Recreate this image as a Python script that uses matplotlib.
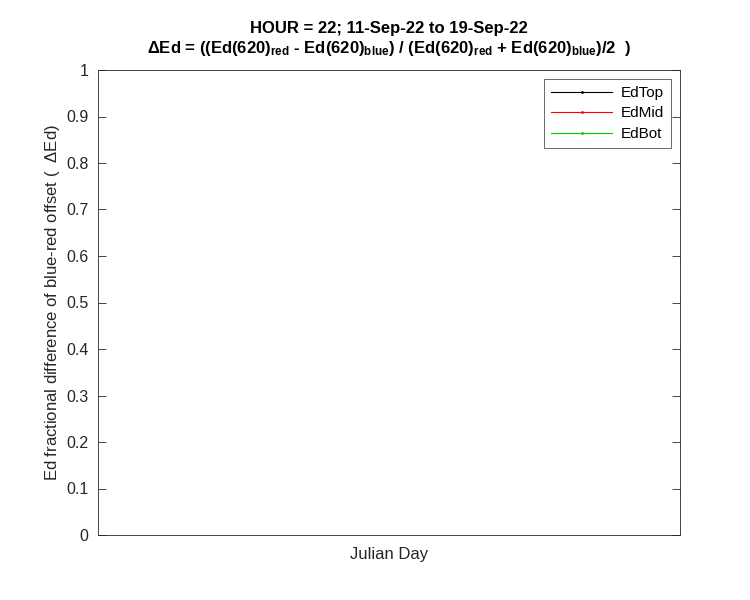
import matplotlib
matplotlib.use('Agg')
import numpy as np
import matplotlib.pyplot as plt

plt.rcParams['font.family'] = ['Liberation Sans', 'DejaVu Sans']
plt.rcParams['mathtext.fontset'] = 'custom'
plt.rcParams['mathtext.rm'] = 'Liberation Sans'
plt.rcParams['mathtext.bf'] = 'Liberation Sans:bold'
plt.rcParams['mathtext.it'] = 'Liberation Sans:italic'

# no data for this hour -> empty series
jday = []
ed_top = []
ed_mid = []
ed_bot = []
names = ['EdTop', 'EdMid', 'EdBot']
colors = ['k', 'r', (0, 0.8, 0)]
yticks = np.arange(0, 1.01, 0.1)
ytick_labels = ['0', '0.1', '0.2', '0.3', '0.4', '0.5', '0.6', '0.7', '0.8', '0.9', '1']

fig = plt.figure(figsize=(7.5, 6), dpi=100)
ax = fig.add_axes([98/750, 65/600, 582/750, 465/600])

for y, nm, c in zip([ed_top, ed_mid, ed_bot], names, colors):
    ax.plot(jday, y, '-', marker='.', ms=2, color=c, lw=0.8, label=nm)

ax.set_ylim(0, 1)
ax.set_xlim(0, 1)
ax.set_yticks(yticks)
ax.set_yticklabels(ytick_labels)
ax.set_xticks([])
ax.tick_params(axis='y', direction='in', right=True, length=5.5, pad=7,
               labelsize=11.5, colors='#262626', width=0.6)
for s in ax.spines.values():
    s.set_color('#262626')
    s.set_linewidth(0.6)

ax.set_xlabel('Julian Day', fontsize=12, color='#262626', labelpad=9)
ax.set_ylabel(r'Ed fractional difference of blue-red offset (  $\Delta$Ed)',
              fontsize=12, color='#262626', labelpad=3)
ax.set_title('HOUR = 22; 11-Sep-22 to 19-Sep-22\n'
             r'$\mathbf{\Delta}$Ed = ((Ed(620)$_{\mathbf{red}}$ - Ed(620)$_{\mathbf{blue}}$) / '
             r'(Ed(620)$_{\mathbf{red}}$ + Ed(620)$_{\mathbf{blue}}$)/2  )',
             fontsize=12, fontweight='bold', color='k', linespacing=1.25, pad=12)

leg = ax.legend(loc='upper right', fontsize=11, frameon=True, fancybox=False,
                edgecolor='#262626', handlelength=4.0, borderpad=0.45,
                labelspacing=0.42, handletextpad=0.55, borderaxespad=0.6)
leg.get_frame().set_linewidth(0.6)

fig.savefig('out.png', dpi=100)
